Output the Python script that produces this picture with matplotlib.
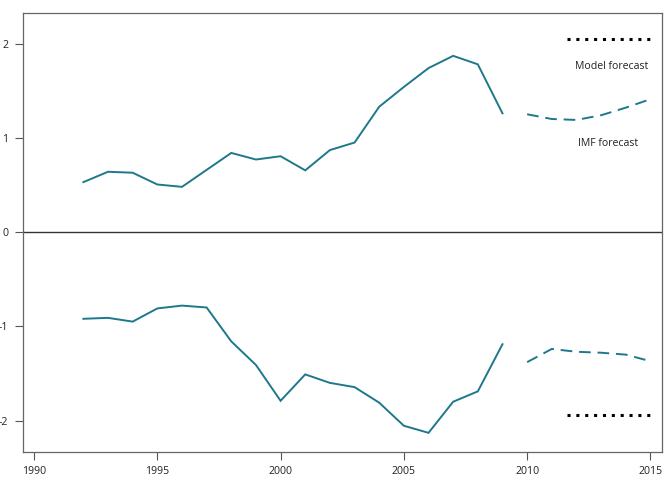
import matplotlib
matplotlib.use("Agg")
import matplotlib.pyplot as plt

years = list(range(1992, 2010))
upper = [0.53, 0.64, 0.63, 0.505, 0.48, 0.66, 0.84, 0.77, 0.805, 0.655,
         0.87, 0.95, 1.33, 1.54, 1.74, 1.87, 1.78, 1.26]
lower = [-0.92, -0.91, -0.95, -0.81, -0.78, -0.80, -1.16, -1.41, -1.79, -1.51,
         -1.60, -1.645, -1.81, -2.055, -2.13, -1.80, -1.69, -1.19]

imf_years = list(range(2010, 2016))
imf_upper = [1.25, 1.20, 1.19, 1.24, 1.32, 1.41]
imf_lower = [-1.38, -1.24, -1.27, -1.28, -1.30, -1.37]

model_years = [2011.6, 2015.05]
model_upper = [2.05, 2.05]
model_lower = [-1.94, -1.94]

xticks = [1990, 1995, 2000, 2005, 2010, 2015]
yticks = [-2, -1, 0, 1, 2]

labels = {"model": "Model forecast", "imf": "IMF forecast"}

plt.rcParams['font.family'] = ['Open Sans', 'DejaVu Sans']
color = "#1e788b"

fig = plt.figure(figsize=(6.68, 4.8), dpi=100)
ax = fig.add_axes([0.034, 0.059, 0.957, 0.913])

ax.plot(years, upper, color=color, lw=1.4, solid_joinstyle='miter')
ax.plot(years, lower, color=color, lw=1.4, solid_joinstyle='miter')
ax.plot(imf_years, imf_upper, color=color, lw=1.4, dashes=(6, 3.5))
ax.plot(imf_years, imf_lower, color=color, lw=1.4, dashes=(6, 3.5))
ax.plot(model_years, model_upper, color="black", lw=2.2, dashes=(1.0, 1.9))
ax.plot(model_years, model_lower, color="black", lw=2.2, dashes=(1.0, 1.9))

ax.axhline(0, color="#333333", lw=1.0)

ax.text(2011.95, 1.76, labels["model"], fontsize=7.6, ha="left", va="center", color="#222222")
ax.text(2012.05, 0.94, labels["imf"], fontsize=7.6, ha="left", va="center", color="#222222")

ax.set_xlim(1989.54, 2015.47)
ax.set_ylim(-2.33, 2.32)
ax.set_xticks(xticks)
ax.set_yticks(yticks)
ax.set_xticklabels([str(x) for x in xticks])
ax.set_yticklabels([str(y) for y in yticks])
ax.tick_params(direction="out", length=5.5, width=0.8, color="#555555",
               labelsize=7.6, labelcolor="#222222", pad=5)
for s in ax.spines.values():
    s.set_color("#666666")
    s.set_linewidth(0.9)

fig.savefig("out.png", dpi=100)
